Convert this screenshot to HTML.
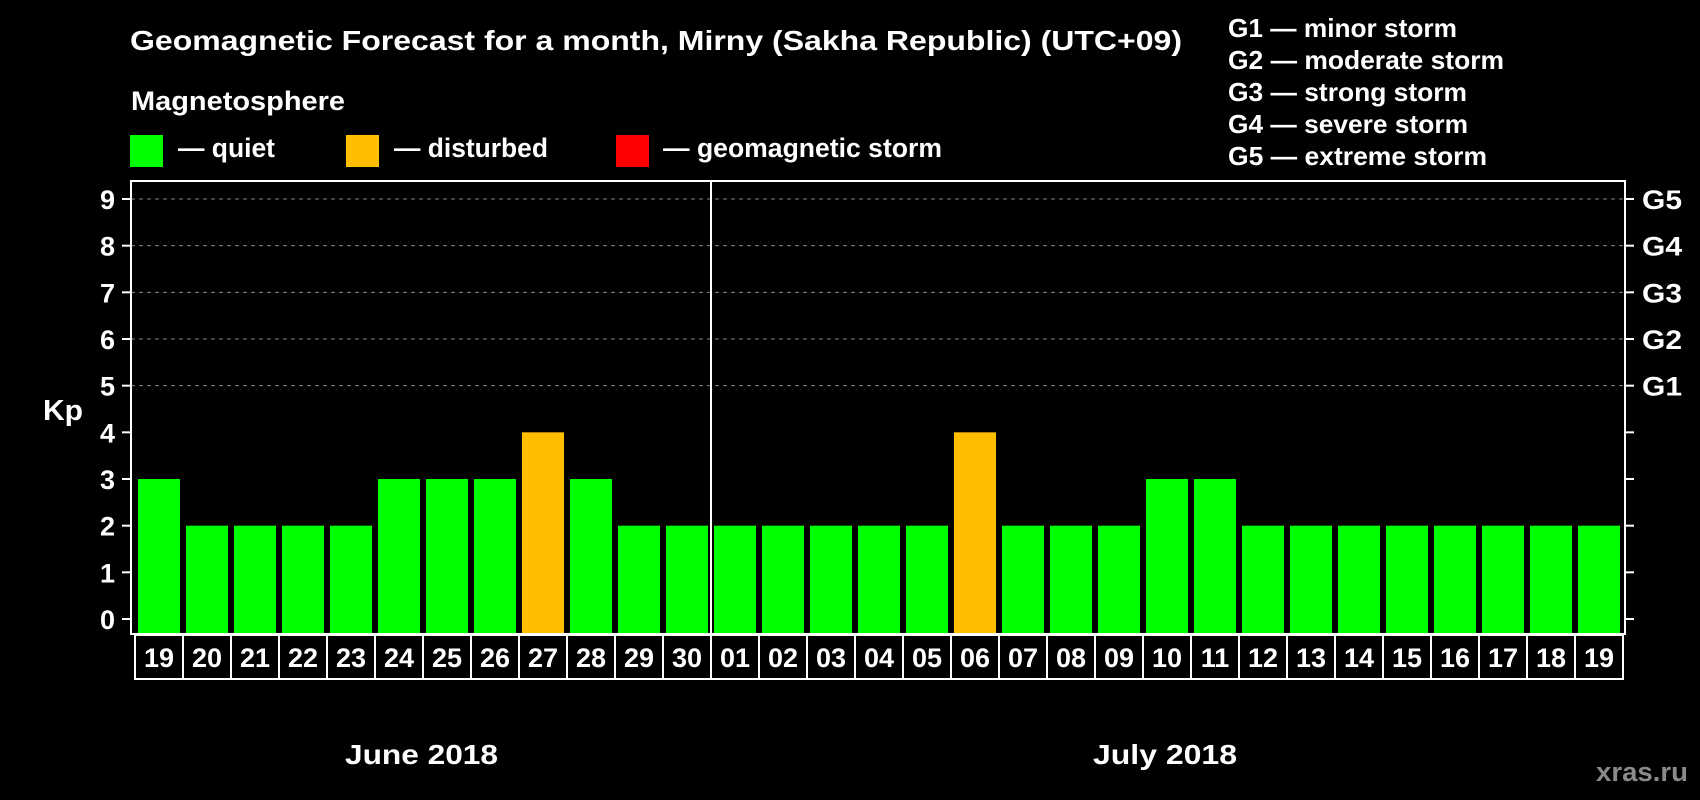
<!DOCTYPE html>
<html><head><meta charset="utf-8"><style>
html,body{margin:0;padding:0;background:#000;}
svg{display:block;font-family:"Liberation Sans",Arial,sans-serif;font-weight:bold;}
</style></head><body>
<svg id="chart" width="1700" height="800" viewBox="0 0 1700 800">
<rect x="0" y="0" width="1700" height="800" fill="#000"/>
<text x="130" y="50" fill="#fff" font-size="28" textLength="1052" lengthAdjust="spacingAndGlyphs">Geomagnetic Forecast for a month, Mirny (Sakha Republic) (UTC+09)</text>
<text x="131" y="110" fill="#fff" font-size="27" textLength="214" lengthAdjust="spacingAndGlyphs">Magnetosphere</text>
<g>
<rect x="130" y="135" width="33" height="32" fill="#00ff00"/>
<text x="178" y="157" fill="#fff" font-size="27" textLength="97" lengthAdjust="spacingAndGlyphs">— quiet</text>
<rect x="346" y="135" width="33" height="32" fill="#ffbf00"/>
<text x="394" y="157" fill="#fff" font-size="27" textLength="154" lengthAdjust="spacingAndGlyphs">— disturbed</text>
<rect x="616" y="135" width="33" height="32" fill="#ff0000"/>
<text x="663" y="157" fill="#fff" font-size="27" textLength="279" lengthAdjust="spacingAndGlyphs">— geomagnetic storm</text>
</g>
<g fill="#fff" font-size="26">
<text x="1228" y="37" textLength="229" lengthAdjust="spacingAndGlyphs">G1 — minor storm</text>
<text x="1228" y="69" textLength="276" lengthAdjust="spacingAndGlyphs">G2 — moderate storm</text>
<text x="1228" y="101" textLength="239" lengthAdjust="spacingAndGlyphs">G3 — strong storm</text>
<text x="1228" y="133" textLength="240" lengthAdjust="spacingAndGlyphs">G4 — severe storm</text>
<text x="1228" y="165" textLength="259" lengthAdjust="spacingAndGlyphs">G5 — extreme storm</text>
</g>
<text x="43" y="420" fill="#fff" font-size="29" textLength="40" lengthAdjust="spacingAndGlyphs">Kp</text>
<text x="345" y="764" fill="#fff" font-size="28" textLength="153" lengthAdjust="spacingAndGlyphs">June 2018</text>
<text x="1093" y="764" fill="#fff" font-size="28" textLength="144" lengthAdjust="spacingAndGlyphs">July 2018</text>
<text x="1596" y="781" fill="#8a8a8a" font-size="27" textLength="92" lengthAdjust="spacingAndGlyphs">xras.ru</text>
<g id="plot"></g>
</svg>
<script>
const days = ["19","20","21","22","23","24","25","26","27","28","29","30","01","02","03","04","05","06","07","08","09","10","11","12","13","14","15","16","17","18","19"];
const kpValues = [3,2,2,2,2,3,3,3,4,3,2,2,2,2,2,2,2,4,2,2,2,3,3,2,2,2,2,2,2,2,2];
const yTicks = [0,1,2,3,4,5,6,7,8,9];
const gLabels = ["G1","G2","G3","G4","G5"];
const gLevels = [5,6,7,8,9];

const NS = "http://www.w3.org/2000/svg";
const plotG = document.getElementById("plot");
const plotLeft = 131, plotRight = 1625, plotTop = 181, plotBottom = 634;
const zeroY = 619, unitH = (619 - 199) / 9;
const firstX = 138, stepX = 48, barW = 42;
function yScale(v){ return zeroY - v * unitH; }
function xScale(i){ return firstX + i * stepX; }
function mk(tag, attrs){ const e = document.createElementNS(NS, tag); for (const k in attrs) e.setAttribute(k, attrs[k]); plotG.appendChild(e); return e; }

gLevels.forEach(v => {
  const g = mk("line", {x1: plotLeft, x2: plotRight, y1: yScale(v), y2: yScale(v), stroke: "#888", "stroke-width": 1, "stroke-dasharray": "4,4"});
  
  
});
kpValues.forEach((v, i) => {
  const color = v >= 5 ? "#ff0000" : (v >= 4 ? "#ffbf00" : "#00ff00");
  const b = mk("rect", {x: xScale(i), y: yScale(v), width: barW, height: plotBottom - yScale(v), fill: color});
  
  
});
const fr = mk("rect", {x: plotLeft, y: plotTop, width: plotRight - plotLeft, height: plotBottom - plotTop, fill: "none", stroke: "#fff", "stroke-width": 2});


const divX = xScale(12) - 3;
const dv = mk("line", {x1: divX, x2: divX, y1: plotTop, y2: plotBottom, stroke: "#fff", "stroke-width": 2});


yTicks.forEach(v => {
  const t = mk("line", {x1: plotLeft - 9, x2: plotLeft, y1: yScale(v), y2: yScale(v), stroke: "#fff", "stroke-width": 2});
  
  
  const t2 = mk("line", {x1: plotRight, x2: plotRight + 9, y1: yScale(v), y2: yScale(v), stroke: "#fff", "stroke-width": 2});
  
  
  const l = mk("text", {x: 115, y: yScale(v) + 10, fill: "#fff", "font-size": 27, "text-anchor": "end"});
  l.textContent = v;
  
  
});
gLabels.forEach((g, i) => {
  const l = mk("text", {x: 1642, y: yScale(gLevels[i]) + 10, fill: "#fff", "font-size": 27, textLength: 40, lengthAdjust: "spacingAndGlyphs"});
  l.textContent = g;
  
  
});
days.forEach((d, i) => {
  const cx = xScale(i) - 3;
  const c = mk("rect", {x: cx, y: plotBottom + 1, width: stepX, height: 44, fill: "none", stroke: "#fff", "stroke-width": 2});
  
  
  const t = mk("text", {x: cx + stepX / 2, y: plotBottom + 33, fill: "#fff", "font-size": 27, "text-anchor": "middle"});
  t.textContent = d;
  
  
});
</script>
</body></html>
